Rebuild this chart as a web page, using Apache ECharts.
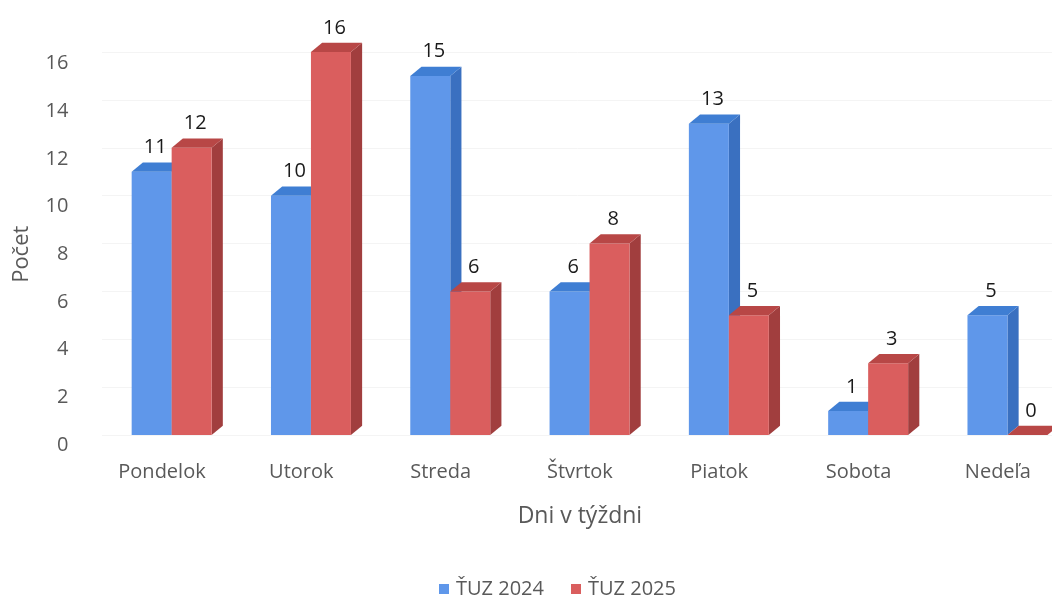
<!DOCTYPE html>
<html>
<head>
<meta charset="utf-8">
<script src="https://cdn.jsdelivr.net/npm/echarts@6/dist/echarts.min.js"></script>
<style>html,body{margin:0;padding:0;background:#fff}#c{width:1052px;height:596px}</style>
</head>
<body>
<div id="c"></div>
<script>
var categories = ['Pondelok', 'Utorok', 'Streda', 'Štvrtok', 'Piatok', 'Sobota', 'Nedeľa'];
var seriesNames = ['ŤUZ 2024', 'ŤUZ 2025'];
var values2024 = [11, 10, 15, 6, 13, 1, 5];
var values2025 = [12, 16, 6, 8, 5, 3, 0];
var yTicks = { min: 0, max: 16, interval: 2 };

var palettes = [
  { front: '#5F97EA', top: '#3F7ED3', side: '#3A70C0' },
  { front: '#DA5E5E', top: '#B84746', side: '#A13E3E' }
];
var FONT = '"Open Sans", "Noto Sans", sans-serif';

function makeRender(sIdx) {
  var pal = palettes[sIdx];
  return function (params, api) {
    var cat = api.value(0), v = api.value(1);
    var base = api.coord([cat, 0]);
    var top = api.coord([cat, v]);
    var band = api.size([1, 0])[0];
    var bw = band * 0.287;
    var dx = bw * 0.28, dy = bw * 0.23;
    var x0 = base[0] - bw + sIdx * bw;
    var ty = top[1], by = base[1];
    return {
      type: 'group',
      children: [
        { type: 'polygon', shape: { points: [[x0 + bw, ty], [x0 + bw + dx, ty - dy], [x0 + bw + dx, by - dy], [x0 + bw, by]] },
          style: { fill: pal.side } },
        { type: 'rect', shape: { x: x0, y: ty, width: bw, height: by - ty },
          style: { fill: pal.front } },
        { type: 'polygon', shape: { points: [[x0, ty], [x0 + bw, ty], [x0 + bw + dx, ty - dy], [x0 + dx, ty - dy]] },
          style: { fill: pal.top } },
        { type: 'text', style: { text: String(v), x: x0 + bw / 2 + dx / 2 - 2, y: ty - dy - 5,
            align: 'center', verticalAlign: 'bottom', fill: '#1a1a1a', font: '20px ' + FONT } }
      ]
    };
  };
}

var chart = echarts.init(document.getElementById('c'), null, { renderer: 'canvas' });
chart.setOption({
  animation: false,
  backgroundColor: '#ffffff',
  grid: [
    { left: 92.35, width: 975.1, top: 63.5, bottom: 151, outerBoundsMode: 'none', containLabel: false },
    { left: 102, width: 975.1, top: 52, bottom: 161, outerBoundsMode: 'none', containLabel: false }
  ],
  legend: {
    data: seriesNames,
    left: 434, top: 574,
    icon: 'rect', itemWidth: 10, itemHeight: 10, itemGap: 27,
    textStyle: { fontFamily: FONT, fontSize: 20, color: '#595959', padding: [0, 0, 0, 2] }
  },
  xAxis: [
    { type: 'category', gridIndex: 0, data: categories,
      axisLine: { show: false }, axisTick: { show: false }, splitLine: { show: false },
      axisLabel: { margin: 17, fontFamily: FONT, fontSize: 20, color: '#595959' },
      name: 'Dni v týždni', nameLocation: 'middle', nameGap: 60,
      nameTextStyle: { fontFamily: FONT, fontSize: 23, color: '#595959' } },
    { type: 'category', gridIndex: 1, data: categories, show: false }
  ],
  yAxis: [
    { type: 'value', gridIndex: 0, min: yTicks.min, max: yTicks.max, interval: yTicks.interval,
      axisLine: { show: false }, axisTick: { show: false },
      splitLine: { show: false },
      axisLabel: { margin: 24, fontFamily: FONT, fontSize: 20, color: '#595959' },
      name: 'Počet', nameLocation: 'middle', nameGap: 60, nameRotate: 90,
      nameTextStyle: { fontFamily: FONT, fontSize: 22, color: '#595959' } },
    { type: 'value', gridIndex: 1, min: yTicks.min, max: yTicks.max, interval: yTicks.interval,
      axisLine: { show: false }, axisTick: { show: false }, axisLabel: { show: false },
      splitLine: { show: true, lineStyle: { color: '#f4f4f4', width: 1 } } }
  ],
  series: [
    { name: seriesNames[0], type: 'custom', xAxisIndex: 1, yAxisIndex: 1,
      itemStyle: { color: palettes[0].front },
      data: values2024.map(function (v, i) { return [i, v]; }),
      encode: { x: 0, y: 1 }, renderItem: makeRender(0) },
    { name: seriesNames[1], type: 'custom', xAxisIndex: 1, yAxisIndex: 1,
      itemStyle: { color: palettes[1].front },
      data: values2025.map(function (v, i) { return [i, v]; }),
      encode: { x: 0, y: 1 }, renderItem: makeRender(1) }
  ]
});
</script>
</body>
</html>
